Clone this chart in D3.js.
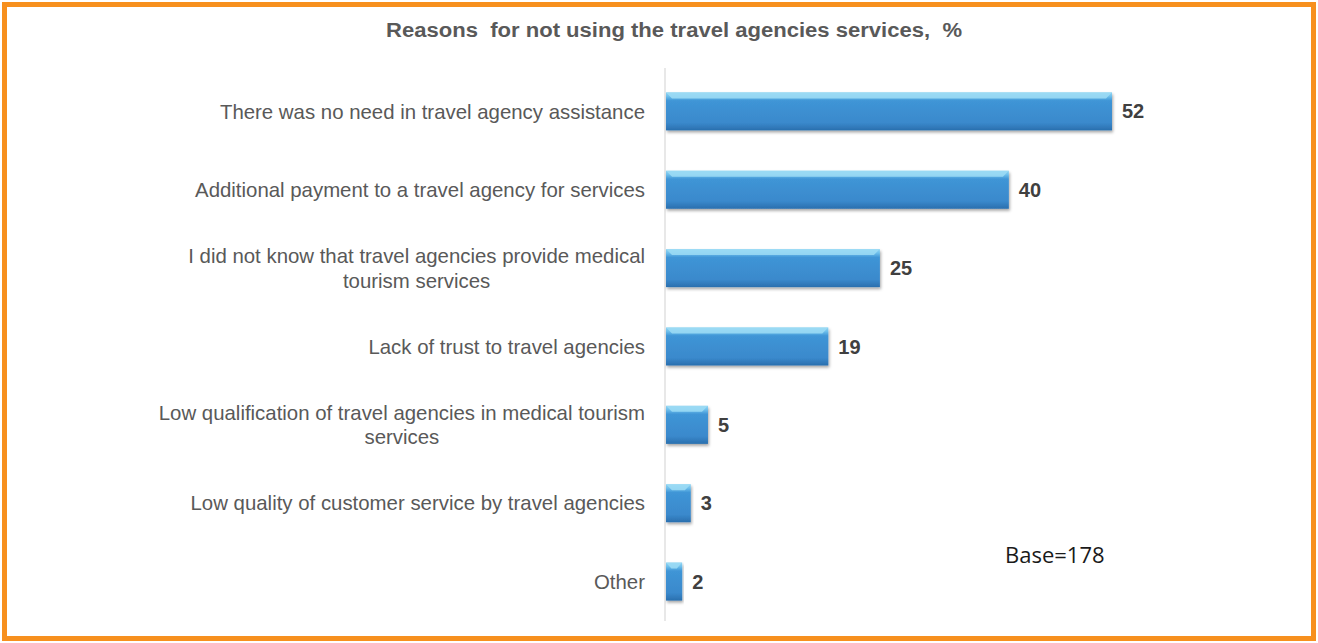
<!DOCTYPE html>
<html>
<head>
<meta charset="utf-8">
<script src="https://cdn.jsdelivr.net/npm/d3@7"></script>
<style>
  html, body { margin: 0; padding: 0; background: #fff; }
  svg { display: block; }
</style>
</head>
<body>
<svg id="chart" width="1318" height="643"></svg>
<script>
// Survey answers: reasons respondents gave for not using travel agencies
const categories = [
  ["There was no need in travel agency assistance"],
  ["Additional payment to a travel agency for services"],
  ["I did not know that travel agencies provide medical", "tourism services"],
  ["Lack of trust to travel agencies"],
  ["Low qualification of travel agencies in medical tourism", "services"],
  ["Low quality of customer service by travel agencies"],
  ["Other"]
];
const values = [52, 40, 25, 19, 5, 3, 2];
const titleText = "Reasons  for not using the travel agencies services,  %";
const baseNote = "Base=178";

const svg = d3.select("#chart");
const W = 1318, H = 643;
const labelFont = "Liberation Sans, Arial, sans-serif";

// Orange frame
svg.append("rect")
  .attr("x", 4.5).attr("y", 4.5)
  .attr("width", W - 9).attr("height", H - 9)
  .attr("fill", "#fff")
  .attr("stroke", "#f7901e")
  .attr("stroke-width", 5);

const defs = svg.append("defs");
const grad = defs.append("linearGradient")
  .attr("id", "barFill").attr("x1", 0).attr("y1", 0).attr("x2", 0).attr("y2", 1);
[["0%", "#8fd3f2"], ["10%", "#6fc0ec"], ["22%", "#3f95d6"], ["80%", "#3a89cc"], ["100%", "#2a6fae"]]
  .forEach(([o, c]) => grad.append("stop").attr("offset", o).attr("stop-color", c));

const shadow = defs.append("filter").attr("id", "barShadow")
  .attr("x", "-5%").attr("y", "-20%").attr("width", "115%").attr("height", "160%");
shadow.append("feDropShadow")
  .attr("dx", 1).attr("dy", 2).attr("stdDeviation", 1.5)
  .attr("flood-color", "#000").attr("flood-opacity", 0.35);

const x0 = 665;
const x = d3.scaleLinear().domain([0, 52]).range([x0, 1112]);
const y = d3.scaleBand()
  .domain(d3.range(values.length))
  .range([72, 621])
  .paddingInner(0.515)
  .paddingOuter(0.26);

// Title
svg.append("text")
  .attr("x", 674).attr("y", 37)
  .attr("text-anchor", "middle")
  .attr("font-family", labelFont)
  .attr("font-weight", "bold")
  .attr("font-size", 20)
  .attr("fill", "#595959")
  .attr("textLength", 576)
  .attr("lengthAdjust", "spacingAndGlyphs")
  .style("white-space", "pre")
  .text(titleText);

// Category axis line
svg.append("line")
  .attr("x1", x0).attr("x2", x0)
  .attr("y1", 68).attr("y2", 621)
  .attr("stroke", "#d9d9d9").attr("stroke-width", 1.2);

const rows = svg.append("g").selectAll("g")
  .data(values.map((v, i) => ({ v, i, lines: categories[i] })))
  .join("g");

// Bars with a bevelled highlight
rows.append("rect")
  .attr("x", x0 + 1)
  .attr("y", d => y(d.i))
  .attr("width", d => x(d.v) - x0 - 1)
  .attr("height", y.bandwidth())
  .attr("fill", "url(#barFill)")
  .attr("filter", "url(#barShadow)");

rows.append("path")
  .attr("d", d => {
    const l = x0 + 1, r = x(d.v), t = y(d.i), b = t + 6;
    const inset = Math.min(6, (r - l) / 3);
    return `M${l},${t}L${r},${t}L${r - inset},${b}L${l + inset},${b}Z`;
  })
  .attr("fill", "#9edcf5")
  .attr("opacity", 0.85);

// Category labels
rows.append("text")
  .attr("x", 645)
  .attr("y", d => y(d.i) + y.bandwidth() / 2)
  .attr("text-anchor", "end")
  .attr("font-family", labelFont)
  .attr("font-size", 20.4)
  .attr("fill", "#595959")
  .each(function (d) {
    const n = d.lines.length;
    d3.select(this).selectAll("tspan")
      .data(d.lines)
      .join("tspan")
      .attr("x", 645)
      .attr("dy", (t, k) => k === 0 ? `${(0.35 - (n - 1) * 0.6)}em` : "1.2em")
      .text(t => t);
  });

// Centre the wrapped second lines under the first line
rows.each(function (d) {
  if (d.lines.length < 2) return;
  const tsp = d3.select(this).selectAll("tspan").nodes();
  const w0 = tsp[0].getComputedTextLength();
  const cx = 645 - w0 / 2;
  d3.select(tsp[1]).attr("x", cx).attr("text-anchor", "middle");
});

// Value labels
rows.append("text")
  .attr("x", d => x(d.v) + 10)
  .attr("y", d => y(d.i) + y.bandwidth() / 2)
  .attr("dy", "0.35em")
  .attr("font-family", labelFont)
  .attr("font-weight", "bold")
  .attr("font-size", 20)
  .attr("fill", "#404040")
  .text(d => d.v);

// Sample size note
svg.append("text")
  .attr("x", 1005).attr("y", 563)
  .attr("font-family", "Open Sans, Noto Sans, sans-serif")
  .attr("font-size", 22)
  .attr("fill", "#1a1a1a")
  .text(baseNote);
</script>
</body>
</html>
